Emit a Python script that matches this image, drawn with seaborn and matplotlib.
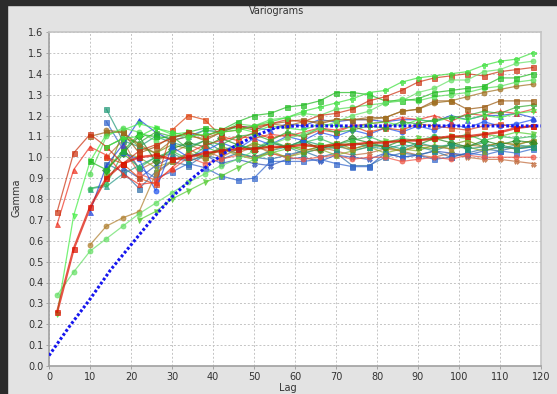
import matplotlib
matplotlib.use("Agg")
import matplotlib.pyplot as plt
import pandas as pd
import seaborn as sns

N = None

# lag classes of the experimental variograms
lags = [2, 6, 10, 14, 18, 22, 26, 30, 34, 38, 42, 46, 50, 54, 58,
        62, 66, 70, 74, 78, 82, 86, 90, 94, 98, 102, 106, 110, 114, 118]

lime_top = [N, N, N, 1.05, 1.09, 1.10, 1.14, 1.12, 1.10, 1.11, 1.12, 1.13, 1.15, 1.17, 1.19,
            1.22, 1.24, 1.26, 1.28, 1.31, 1.32, 1.36, 1.38, 1.39, 1.40, 1.41, 1.44, 1.46, 1.47, 1.50]
green_circle = [0.34, 0.45, 0.55, 0.61, 0.67, 0.73, 0.78, 0.83, 0.88, 0.92, 0.96, 0.99, 1.03, 1.06, 1.09,
                1.11, 1.14, 1.17, 1.20, 1.22, 1.26, 1.27, 1.31, 1.33, 1.37, 1.37, 1.41, 1.42, 1.45, 1.46]
red_upper = [0.74, 1.02, 1.11, 1.05, 0.97, 1.03, 1.06, 1.09, 1.12, 1.10, 1.13, 1.15, 1.14, 1.16, 1.18,
             1.17, 1.20, 1.21, 1.23, 1.27, 1.29, 1.32, 1.36, 1.38, 1.39, 1.40, 1.39, 1.41, 1.42, 1.43]
green_square = [N, N, 0.98, 0.94, 1.03, 1.11, 1.10, 1.09, 1.12, 1.14, 1.13, 1.17, 1.20, 1.21, 1.24,
                1.25, 1.27, 1.31, 1.31, 1.30, 1.27, 1.27, 1.28, 1.31, 1.32, 1.33, 1.34, 1.38, 1.38, 1.40]
brown_upper = [N, N, N, 1.13, 1.12, 1.06, 1.02, 1.08, 1.10, 1.09, 1.12, 1.13, 1.15, 1.16, 1.15,
               1.17, 1.17, 1.18, 1.18, 1.18, 1.19, 1.22, 1.23, 1.26, 1.27, 1.29, 1.31, 1.325, 1.34, 1.35]
brown_square = [N, N, 1.10, 1.12, 1.12, 1.02, 1.05, 1.10, 1.11, 1.08, 1.12, 1.15, 1.13, 1.16, 1.17,
                1.18, 1.16, 1.18, 1.18, 1.19, 1.19, 1.22, 1.23, 1.27, 1.27, 1.23, 1.24, 1.27, 1.27, 1.27]
green_plus = [N, N, N, 1.05, 1.09, 1.07, 1.12, 1.10, 1.04, 1.08, 1.06, 1.10, 1.11, 1.08, 1.12,
              1.10, 1.14, 1.12, 1.13, 1.15, 1.14, 1.17, 1.16, 1.18, 1.19, 1.20, 1.22, 1.21, 1.24, 1.25]
red_triangle = [0.68, 0.94, 1.05, 1.01, 0.92, 0.87, 0.88, 0.95, 1.02, 1.06, 1.08, 1.10, 1.09, 1.11, 1.10,
                1.12, 1.14, 1.13, 1.15, 1.16, 1.17, 1.19, 1.18, 1.20, 1.17, 1.21, 1.20, 1.22, 1.21, 1.23]
blue_upper = [N, N, 0.74, 0.96, 1.06, 1.18, 1.12, 1.08, 1.10, 1.13, 1.12, 1.15, 1.14, 1.13, 1.16,
              1.15, 1.18, 1.17, 1.18, 1.18, 1.17, 1.18, 1.18, 1.17, 1.20, 1.18, 1.20, 1.20, 1.21, 1.19]
red_main = [0.26, 0.56, 0.76, 0.90, 0.97, 1.00, 1.01, 0.99, 1.00, 1.02, 1.03, 1.04, 1.04, 1.05, 1.05,
            1.06, 1.05, 1.06, 1.06, 1.07, 1.07, 1.08, 1.08, 1.09, 1.10, 1.10, 1.11, 1.12, 1.14, 1.15]
lime_early = [0.25, 0.72, 0.98, 1.11, 1.13, 1.16, 1.14, 1.11, 1.12, 1.10, 1.13, 1.14, 1.12, 1.15, 1.14,
              1.13, 1.16, 1.15, 1.14, 1.16, 1.17, 1.15, 1.18, 1.17, 1.19, 1.18, 1.20, 1.19, 1.21, 1.22]
green_tri_down = [N, N, N, N, N, 0.70, 0.74, 0.80, 0.84, 0.88, 0.91, 0.95, 0.99, 1.02, 1.04,
                  1.05, 1.06, 1.05, 1.07, 1.06, 1.08, 1.07, 1.09, 1.08, 1.10, 1.09, 1.11, 1.10, 1.12, 1.11]
brown_circle = [N, N, 0.58, 0.67, 0.71, 0.74, 0.92, 0.98, 1.02, 0.99, 1.04, 1.02, 1.05, 1.03, 1.06,
                1.04, 1.03, 1.05, 1.04, 1.06, 1.05, 1.03, 1.06, 1.05, 1.04, 1.06, 1.05, 1.07, 1.06, 1.08]
teal_square = [N, N, N, 1.23, 1.08, 1.05, 1.10, 1.07, 1.05, 1.08, 1.03, 1.06, 1.04, 1.07, 1.05,
               1.08, 1.06, 1.04, 1.07, 1.05, 1.06, 1.04, 1.07, 1.05, 1.06, 1.04, 1.05, 1.06, 1.04, 1.05]
blue_low = [N, N, N, 1.17, 1.04, 0.95, 0.90, 0.93, 0.97, 0.95, 0.91, 0.89, 0.90, 0.98, 0.98,
            0.98, 0.99, 0.97, 0.955, 0.955, 1.02, 1.00, 1.01, 0.99, 1.00, 1.02, 1.01, 1.03, 1.02, 1.04]
red_low = [N, N, N, N, 1.05, 0.92, 0.89, 0.94, 1.00, 0.97, 0.99, 1.01, 1.00, 1.02, 1.00,
           0.99, 1.00, 1.01, 0.99, 1.00, 1.00, 0.98, 0.99, 1.00, 0.99, 1.01, 1.00, 1.00, 1.00, 1.00]
brown_x = [N, N, N, 1.00, 1.08, 0.94, 0.98, 1.02, 1.06, 1.03, 1.00, 1.04, 1.06, 1.02, 1.00,
           1.03, 1.05, 1.03, 1.01, 1.02, 1.04, 1.03, 1.01, 1.00, 1.02, 1.00, 0.99, 0.99, 0.98, 0.97]
olive_square = [N, N, N, 0.91, 1.12, 1.05, 1.02, 1.06, 1.04, 1.00, 1.05, 1.03, 1.07, 1.04, 1.06,
                1.03, 1.05, 1.07, 1.04, 1.06, 1.05, 1.03, 1.05, 1.04, 1.06, 1.08, 1.05, 1.07, 1.06, 1.08]
green_mid = [N, N, 0.85, 0.87, 1.02, 0.95, 1.00, 1.03, 0.99, 1.05, 1.02, 1.06, 1.04, 1.08, 1.05,
             1.07, 1.09, 1.06, 1.08, 1.10, 1.07, 1.09, 1.08, 1.10, 1.09, 1.11, 1.08, 1.10, 1.09, 1.10]
steel_square = [N, N, N, 0.97, 0.93, 0.85, 0.93, 0.98, 0.96, 1.01, 0.99, 1.02, 1.00, 0.99, 1.01,
                1.03, 1.00, 1.02, 0.96, 0.96, 1.00, 1.02, 1.01, 1.03, 1.00, 1.02, 1.04, 1.03, 1.05, 1.05]
green_dark = [N, N, N, 0.94, 1.02, 1.10, 0.98, 1.04, 1.07, 1.05, 1.09, 1.06, 1.03, 1.07, 1.05,
              1.08, 1.04, 1.06, 1.09, 1.07, 1.05, 1.08, 1.06, 1.09, 1.07, 1.05, 1.08, 1.06, 1.08, 1.07]
red_orange = [N, N, N, 1.00, 0.97, 0.90, 0.87, 1.13, 1.20, 1.18, 1.10, 1.08, 1.12, 1.09, 1.11,
              1.10, 1.13, 1.12, 1.15, 1.12, 1.14, 1.13, 1.16, 1.15, 1.14, 1.13, 1.15, 1.16, 1.14, 1.15]
blue_mid = [N, N, N, N, 1.02, 0.99, 0.84, 1.05, 1.00, 1.03, 1.07, 1.04, 1.09, 1.06, 1.10,
            1.08, 1.12, 1.10, 1.13, 1.11, 1.14, 1.12, 1.15, 1.13, 1.16, 1.14, 1.17, 1.15, 1.16, 1.18]
lime_second = [N, N, 0.92, 1.10, 1.14, 1.12, 1.08, 1.11, 1.09, 1.13, 1.12, 1.16, 1.15, 1.18, 1.19,
               1.21, 1.20, 1.23, 1.24, 1.25, 1.26, 1.28, 1.27, 1.29, 1.30, 1.31, 1.33, 1.34, 1.36, 1.37]
olive_triangle = [N, N, N, N, 1.02, 1.00, 0.95, 0.98, 1.02, 1.00, 1.04, 1.01, 0.99, 1.03, 1.00,
                  1.02, 1.04, 1.01, 1.03, 1.05, 1.02, 1.04, 1.03, 1.06, 1.04, 1.05, 1.03, 1.05, 1.04, 1.06]
teal_triangle = [N, N, 0.85, 0.86, 0.92, 0.96, 1.00, 1.02, 0.98, 1.01, 1.04, 1.02, 1.00, 1.03, 1.05,
                 1.02, 1.04, 1.06, 1.03, 1.05, 1.04, 1.06, 1.05, 1.03, 1.06, 1.05, 1.07, 1.04, 1.06, 1.05]
blue_x = [N, N, N, N, 0.95, 0.90, 0.96, 1.00, 0.98, 1.01, 0.97, 0.99, 0.97, 0.96, 0.99,
          1.00, 0.98, 1.01, 1.00, 0.99, 1.02, 1.00, 1.01, 1.03, 1.02, 1.01, 1.03, 1.05, 1.04, 1.05]

# fitted model
model_lag = [0, 5, 10, 15, 20, 25, 30, 35, 40, 45, 50, 55, 60, 120]
model_gamma = [0.05, 0.19, 0.32, 0.46, 0.58, 0.70, 0.81, 0.90, 0.98, 1.05, 1.10, 1.14, 1.15, 1.15]

series = [
    ("brown_x", brown_x, "#c06a3a", "X"),
    ("blue_x", blue_x, "#3355bb", "X"),
    ("steel_square", steel_square, "#2f6fa8", "s"),
    ("blue_low", blue_low, "#3366cc", "s"),
    ("red_low", red_low, "#ee5544", "o"),
    ("olive_triangle", olive_triangle, "#88aa22", "^"),
    ("teal_triangle", teal_triangle, "#2a9a8a", "^"),
    ("olive_square", olive_square, "#6f9a10", "s"),
    ("brown_circle", brown_circle, "#b08030", "o"),
    ("green_dark", green_dark, "#228822", "D"),
    ("teal_square", teal_square, "#229977", "s"),
    ("green_mid", green_mid, "#33bb55", "o"),
    ("green_tri_down", green_tri_down, "#55cc33", "v"),
    ("blue_mid", blue_mid, "#2255ee", "o"),
    ("red_orange", red_orange, "#dd4411", "s"),
    ("blue_upper", blue_upper, "#2244dd", "^"),
    ("red_triangle", red_triangle, "#ee3322", "^"),
    ("lime_early", lime_early, "#44ee44", "v"),
    ("green_plus", green_plus, "#33aa33", "P"),
    ("brown_square", brown_square, "#9a5a10", "s"),
    ("brown_upper", brown_upper, "#a07020", "o"),
    ("lime_second", lime_second, "#55dd55", "o"),
    ("green_square", green_square, "#22bb22", "s"),
    ("red_upper", red_upper, "#cc3311", "s"),
    ("green_circle", green_circle, "#66e066", "o"),
    ("lime_top", lime_top, "#3de03d", "P"),
    ("red_main", red_main, "#dd1100", "s"),
]

fig = plt.figure(figsize=(5.57, 3.94), dpi=100, facecolor="#e3e3e3")
# dark window strips on the left and top
fig.patches.append(plt.Rectangle((0, 0), 7 / 557, 1, transform=fig.transFigure,
                                 color="#2b2b2b", zorder=-1))
fig.patches.append(plt.Rectangle((0, 1 - 5 / 394), 1, 5 / 394, transform=fig.transFigure,
                                 color="#2b2b2b", zorder=-1))

ax = fig.add_axes([49 / 557, 28 / 394, 492 / 557, 334 / 394])
ax.set_facecolor("white")

for name, vals, col, mk in series:
    d = pd.DataFrame({"lag": lags, "gamma": vals}).dropna()
    lw = 1.7 if name == "red_main" else 0.9
    sns.lineplot(data=d, x="lag", y="gamma", ax=ax, color=col, marker=mk,
                 markersize=3.6, markeredgecolor=col, markeredgewidth=0.6,
                 linewidth=lw, alpha=0.72, sort=False, legend=False)

sns.lineplot(x=model_lag, y=model_gamma, ax=ax, color="#1515ee",
             linewidth=2.2, linestyle=(0, (0.9, 0.7)), zorder=5, legend=False)

ax.set_xlim(0, 120)
ax.set_ylim(0, 1.6)
ax.set_xticks(range(0, 121, 10))
ax.set_yticks([i / 10 for i in range(17)])
ax.set_yticklabels([f"{i / 10:.1f}" for i in range(17)])
ax.tick_params(labelsize=7, colors="#333333", length=2, width=0.6, pad=2)
ax.tick_params(axis="both", color="#999999")
ax.grid(True, color="#c4c4c4", linestyle=(0, (2, 2)), linewidth=0.7)
ax.set_axisbelow(True)
ax.set_xlabel("")
ax.set_ylabel("")
for s in ["left", "bottom"]:
    ax.spines[s].set_color("#a0a0a0")
    ax.spines[s].set_linewidth(1.2)
for s in ["top", "right"]:
    ax.spines[s].set_color("#c4c4c4")
    ax.spines[s].set_linewidth(1.2)

fig.text(277 / 557, 1 - 11 / 394, "Variograms", ha="center", va="center",
         fontsize=7, color="#333333")
fig.text(288 / 557, 1 - 388 / 394, "Lag", ha="center", va="center",
         fontsize=7, color="#333333")
fig.text(17 / 557, 1 - 198 / 394, "Gamma", ha="center", va="center",
         rotation=90, fontsize=7, color="#333333")

fig.savefig("out.png", dpi=100, facecolor=fig.get_facecolor())
